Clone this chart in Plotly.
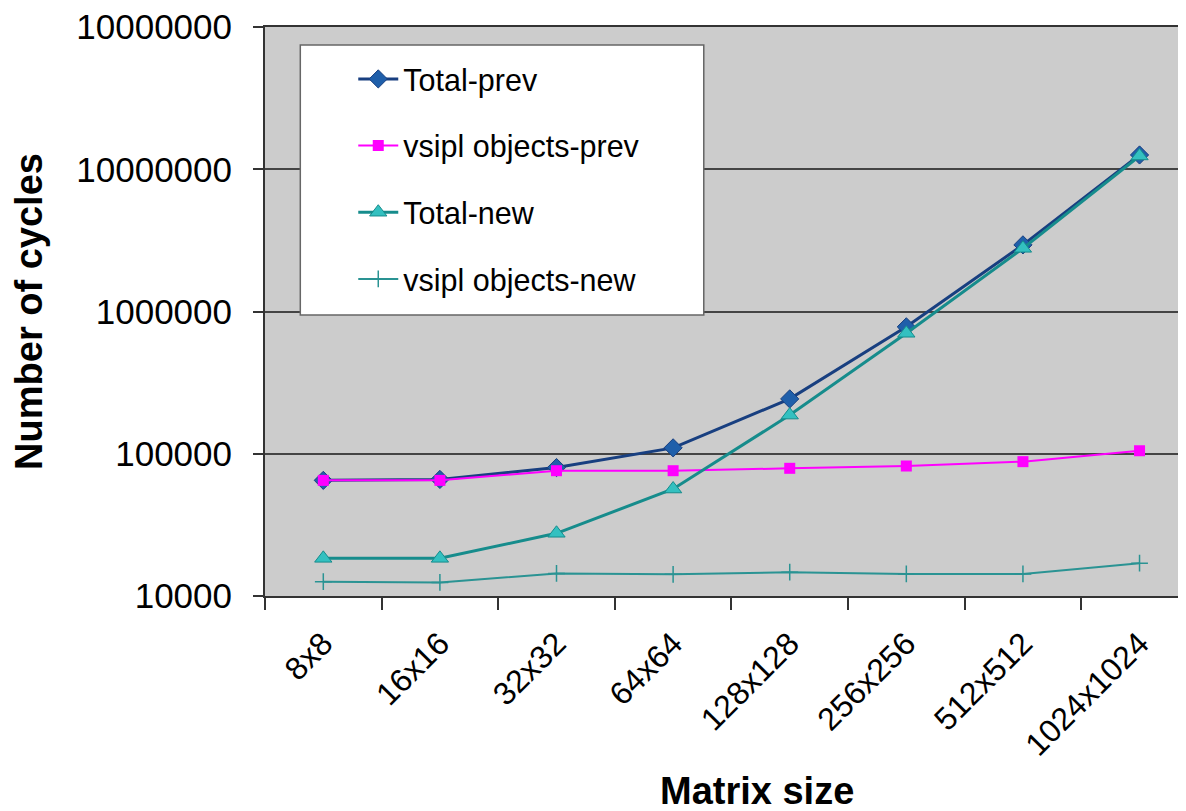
import plotly.graph_objects as go

categories = ["8x8", "16x16", "32x32", "64x64", "128x128", "256x256", "512x512", "1024x1024"]
total_prev = [65000, 66000, 80000, 110000, 243000, 780000, 2940000, 12600000]
vsipl_prev = [65000, 65000, 76000, 76000, 79000, 82000, 88000, 105000]
total_new = [18400, 18400, 27600, 56500, 187000, 703000, 2780000, 12400000]
vsipl_new = [12600, 12450, 14400, 14200, 14700, 14300, 14300, 17000]

y_tickvals = [1e4, 1e5, 1e6, 1e7, 1e8]
y_ticktext = ["10000", "100000", "1000000", "10000000", "10000000"]

FONT = "Liberation Sans, Arial, sans-serif"

fig = go.Figure()
fig.add_trace(go.Scatter(
    x=categories, y=total_prev, name="Total-prev", mode="lines+markers",
    line=dict(color="#183F80", width=3),
    marker=dict(symbol="diamond", size=14, color="#1F5FAA", line=dict(color="#183F80", width=1)),
    legendgroup="a"))
fig.add_trace(go.Scatter(
    x=categories, y=vsipl_prev, name="vsipl objects-prev", mode="lines+markers",
    line=dict(color="#FF00FF", width=2),
    marker=dict(symbol="square", size=11, color="#FF00FF"),
    legendgroup="b"))
fig.add_trace(go.Scatter(
    x=categories, y=total_new, name="Total-new", mode="lines+markers",
    line=dict(color="#168C8C", width=3),
    marker=dict(symbol="triangle-up", size=15, color="#33C0C0", line=dict(color="#168C8C", width=1)),
    legendgroup="c"))
fig.add_trace(go.Scatter(
    x=categories, y=vsipl_new, name="vsipl objects-new", mode="lines+markers",
    line=dict(color="#2A9393", width=2),
    marker=dict(symbol="cross-thin", size=12, color="#2A9393", line=dict(color="#2A9393", width=1.5)),
    legendgroup="d"))

fig.update_layout(
    width=1186, height=811,
    margin=dict(l=257, r=0, t=19, b=223),
    paper_bgcolor="white",
    plot_bgcolor="#CCCCCC",
    font=dict(family=FONT, color="black"),
    showlegend=True,
    legend=dict(
        x=0.095, y=0.955, xanchor="left", yanchor="top",
        bgcolor="rgba(0,0,0,0)", borderwidth=0,
        font=dict(size=30.5, family=FONT, color="black"),
        tracegroupgap=24, itemwidth=40,
    ),
    shapes=[dict(type="rect", xref="paper", yref="paper",
                 x0=0.038, x1=0.4723, y0=0.4939, y1=0.9684,
                 fillcolor="white", line=dict(color="#666666", width=1.5), layer="above")],
    annotations=[dict(text="<b>Matrix size</b>", xref="paper", yref="paper",
                      x=0.53, y=-0.343, xanchor="center", yanchor="middle",
                      showarrow=False, font=dict(size=38, family=FONT, color="black"))],
)

fig.update_xaxes(
    type="category", range=[-0.5, 7.467],
    showgrid=False, zeroline=False,
    showline=True, linecolor="#333333", linewidth=2, mirror=True,
    ticks="outside", tickson="boundaries", ticklen=12, tickcolor="#333333", tickwidth=1.5,
    tickangle=-45, tickfont=dict(size=32, family=FONT, color="black"),
    ticklabelstandoff=14,
)
fig.update_yaxes(
    type="log", range=[4, 8],
    tickvals=y_tickvals, ticktext=y_ticktext,
    ticklabeloverflow="allow",
    showgrid=True, gridcolor="#444444", gridwidth=1.5,
    zeroline=False, showline=True, linecolor="#333333", linewidth=2,
    ticks="outside", ticklen=10, tickcolor="#333333", tickwidth=1.5,
    tickfont=dict(size=35, family=FONT, color="black"),
    ticklabelstandoff=14,
    title=dict(text="<b>Number of cycles</b>", font=dict(size=38, family=FONT, color="black"), standoff=30),
)

fig.write_html("out.html")
